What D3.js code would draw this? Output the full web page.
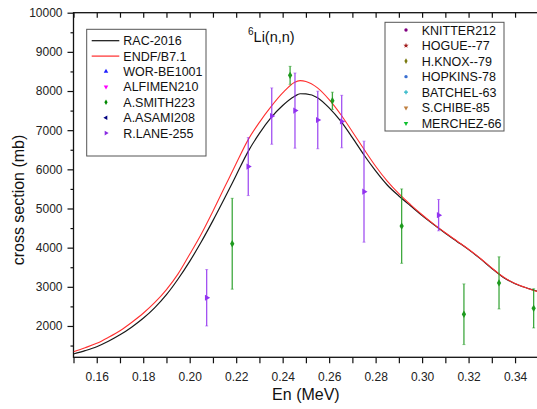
<!DOCTYPE html>
<html>
<head>
<meta charset="utf-8">
<script src="https://cdn.jsdelivr.net/npm/d3@7/dist/d3.min.js"></script>
<style>
  html, body { margin: 0; padding: 0; background: #fff; }
  svg { display: block; font-family: "Liberation Sans", Arial, sans-serif; }
</style>
</head>
<body>
<svg id="chart" width="537" height="409"></svg>
<script>
// Evaluated cross sections (mb) on a common energy grid (MeV)
const energyGrid = [0.150, 0.155, 0.160, 0.165, 0.170, 0.175, 0.180, 0.185, 0.190, 0.195,
  0.200, 0.205, 0.210, 0.215, 0.220, 0.225, 0.230, 0.235, 0.240, 0.245, 0.2475, 0.250,
  0.255, 0.260, 0.265, 0.270, 0.275, 0.280, 0.285, 0.290, 0.295, 0.300, 0.305, 0.310,
  0.315, 0.320, 0.325, 0.330, 0.335, 0.340, 0.345, 0.350];
const racValues = [1284, 1370, 1471, 1610, 1775, 1970, 2196, 2470, 2800, 3200,
  3650, 4150, 4690, 5260, 5850, 6440, 6920, 7320, 7630, 7860, 7930, 7925,
  7830, 7570, 7230, 6810, 6366, 5960, 5600, 5320, 5070, 4820, 4590, 4370,
  4160, 3950, 3720, 3470, 3240, 3080, 2970, 2880];
const endfValues = [1343, 1445, 1558, 1710, 1880, 2090, 2324, 2600, 2930, 3330,
  3830, 4350, 4930, 5540, 6150, 6740, 7200, 7600, 7950, 8220, 8265, 8245,
  8080, 7780, 7400, 6960, 6512, 6080, 5700, 5380, 5100, 4840, 4600, 4380,
  4170, 3960, 3730, 3480, 3250, 3085, 2970, 2875];

// Measured points with uncertainties
const laneEnergy = [0.2073, 0.2252, 0.2353, 0.2453, 0.2551, 0.2654, 0.2750, 0.3071];
const laneXS     = [2720, 6070, 7360, 7500, 7260, 7220, 5430, 4830];
const laneErr    = [720, 740, 720, 960, 735, 670, 1290, 400];

const smithEnergy = [0.2183, 0.2432, 0.2614, 0.2912, 0.3180, 0.3331, 0.3480];
const smithXS     = [4100, 8400, 7750, 4550, 2300, 3100, 2450];
const smithErr    = [1160, 230, 220, 950, 775, 665, 500];

// Axis ticks
const xTickValues = [0.16, 0.18, 0.20, 0.22, 0.24, 0.26, 0.28, 0.30, 0.32, 0.34];
const xMinorValues = [0.15, 0.17, 0.19, 0.21, 0.23, 0.25, 0.27, 0.29, 0.31, 0.33, 0.35];
const yTickValues = [2000, 3000, 4000, 5000, 6000, 7000, 8000, 9000, 10000];
const yMinorValues = [1500, 2500, 3500, 4500, 5500, 6500, 7500, 8500, 9500];

// Legend entries
const legendLeftNames = ["RAC-2016", "ENDF/B7.1", "WOR-BE1001", "ALFIMEN210", "A.SMITH223", "A.ASAMI208", "R.LANE-255"];
const legendLeftColors = ["#111111", "#ff2a2a", "#1f1fff", "#ff00ff", "#008800", "#000080", "#8a2be2"];
const legendLeftKinds = ["line", "line", "up", "down", "diamond", "left", "right"];
const legendRightNames = ["KNITTER212", "HOGUE--77", "H.KNOX--79", "HOPKINS-78", "BATCHEL-63", "S.CHIBE-85", "MERCHEZ-66"];
const legendRightColors = ["#800080", "#a01818", "#7a7a10", "#3a6fd0", "#30b8c8", "#c08040", "#10c030"];
const legendRightKinds = ["circle", "star", "diamond", "circle", "cross", "down", "down"];

const svg = d3.select("#chart");
const plotLeft = 73.5, plotRight = 538.3, plotTop = 12.7, plotBottom = 357.3;

const x = d3.scaleLinear().domain([0.15, 0.35]).range([plotLeft, plotRight]);
const y = d3.scaleLinear().domain([1200, 10000]).range([plotBottom, plotTop]);

svg.append("defs").append("clipPath").attr("id", "plotClip")
  .append("rect").attr("x", plotLeft).attr("y", plotTop)
  .attr("width", plotRight - plotLeft).attr("height", plotBottom - plotTop);

// Axes
const fmtX = d3.format(".2f");
const axisColor = "#111";

svg.append("g").attr("transform", `translate(0,${plotBottom})`)
  .call(d3.axisBottom(x).tickValues(xTickValues).tickFormat(fmtX).tickSize(6).tickPadding(9));
svg.append("g").attr("transform", `translate(0,${plotBottom})`)
  .call(d3.axisBottom(x).tickValues(xMinorValues).tickFormat("").tickSize(6));
svg.append("g").attr("transform", `translate(0,${plotTop})`)
  .call(d3.axisBottom(x).tickValues(xTickValues.concat(xMinorValues)).tickFormat("").tickSize(5));
svg.append("g").attr("transform", `translate(${plotLeft},0)`)
  .call(d3.axisLeft(y).tickValues(yTickValues).tickSize(6).tickPadding(5).tickFormat(d3.format("d")));
svg.append("g").attr("transform", `translate(${plotLeft},0)`)
  .call(d3.axisLeft(y).tickValues(yMinorValues).tickFormat("").tickSize(3));
svg.append("g").attr("transform", `translate(${plotRight},0)`)
  .call(d3.axisLeft(y).tickValues(yTickValues).tickFormat("").tickSize(-6));
svg.append("g").attr("transform", `translate(${plotRight},0)`)
  .call(d3.axisLeft(y).tickValues(yMinorValues).tickFormat("").tickSize(-3));

svg.selectAll(".domain").remove();
svg.selectAll(".tick line").attr("stroke", axisColor).attr("stroke-width", 1.2);
svg.selectAll(".tick text").attr("fill", "#222").style("font-size", "12px")
  .style("font-family", "'Liberation Sans', Arial, sans-serif");

// Frame
svg.append("rect").attr("x", plotLeft).attr("y", plotTop)
  .attr("width", plotRight - plotLeft).attr("height", plotBottom - plotTop)
  .attr("fill", "none").attr("stroke", axisColor).attr("stroke-width", 1.3);

// Axis titles
svg.append("text").attr("x", (plotLeft + plotRight) / 2).attr("y", 400)
  .attr("text-anchor", "middle").style("font-size", "16px").attr("fill", "#111")
  .text("En (MeV)");
svg.append("text").attr("transform", `translate(24,200) rotate(-90)`)
  .attr("text-anchor", "middle").style("font-size", "16px").attr("fill", "#111")
  .text("cross section (mb)");

// Reaction label
const title = svg.append("text").attr("x", 248).attr("y", 42).attr("fill", "#111");
title.append("tspan").attr("dy", -7).style("font-size", "10px").text("6");
title.append("tspan").attr("dy", 7).style("font-size", "14.5px").text("Li(n,n)");

// Evaluated curves
const plot = svg.append("g").attr("clip-path", "url(#plotClip)");
const line = d3.line().x((d, i) => x(energyGrid[i])).y(d => y(d)).curve(d3.curveMonotoneX);
plot.append("path").datum(racValues).attr("d", line)
  .attr("fill", "none").attr("stroke", "#1a1a1a").attr("stroke-width", 1.2);
plot.append("path").datum(endfValues).attr("d", line)
  .attr("fill", "none").attr("stroke", "#ff3030").attr("stroke-width", 1.1);

// Marker shapes
function marker(sel, kind, color, size) {
  const tri = d3.symbol().type(d3.symbolTriangle).size(size)();
  const rot = { up: 0, down: 180, left: -90, right: 90 };
  if (kind in rot) return sel.append("path").attr("d", tri).attr("transform", `rotate(${rot[kind]})`).attr("fill", color);
  const types = { diamond: d3.symbolDiamond, circle: d3.symbolCircle, star: d3.symbolStar, cross: d3.symbolCross };
  return sel.append("path").attr("d", d3.symbol().type(types[kind]).size(size)()).attr("fill", color);
}

// Data with error bars
function drawSeries(energies, values, errs, color, kind) {
  const g = plot.append("g");
  energies.forEach((e, i) => {
    const cx = x(e), lo = y(values[i] - errs[i]), hi = y(values[i] + errs[i]);
    g.append("line").attr("x1", cx).attr("x2", cx).attr("y1", lo).attr("y2", hi)
      .attr("stroke", color).attr("stroke-width", 1.3).attr("opacity", 0.85);
    [lo, hi].forEach(yy => g.append("line").attr("x1", cx - 1.5).attr("x2", cx + 1.5)
      .attr("y1", yy).attr("y2", yy).attr("stroke", color).attr("stroke-width", 1).attr("opacity", 0.5));
    const m = g.append("g").attr("transform", `translate(${cx},${y(values[i])})`);
    marker(m, kind, color, 16);
  });
}
drawSeries(smithEnergy, smithXS, smithErr, "#1e9a1e", "diamond");
drawSeries(laneEnergy, laneXS, laneErr, "#9233f0", "right");

// Legends
function legend(x0, y0, w, h, rowY, names, colors, kinds, lineX1, lineX2, markX, textX) {
  const g = svg.append("g");
  g.append("rect").attr("x", x0).attr("y", y0).attr("width", w).attr("height", h)
    .attr("fill", "#fff").attr("stroke", "#555").attr("stroke-width", 1);
  names.forEach((name, i) => {
    const yy = rowY[i];
    if (kinds[i] === "line") {
      g.append("line").attr("x1", lineX1).attr("x2", lineX2).attr("y1", yy).attr("y2", yy)
        .attr("stroke", colors[i]).attr("stroke-width", 1.2);
    } else {
      marker(g.append("g").attr("transform", `translate(${markX},${yy})`), kinds[i], colors[i], 9);
    }
    g.append("text").attr("x", textX).attr("y", yy + 4.5).style("font-size", "12.5px")
      .attr("fill", "#111").text(name);
  });
}
const leftRows = d3.range(7).map(i => 40.7 + i * 15.4);
legend(86.7, 29.3, 119.3, 126.7, leftRows, legendLeftNames, legendLeftColors, legendLeftKinds, 91.7, 119.3, 106, 123.3);
const rightRows = d3.range(7).map(i => 30 + i * 15.55);
legend(385, 22.3, 119, 108.7, rightRows, legendRightNames, legendRightColors, legendRightKinds, 0, 0, 406, 421.7);
</script>
</body>
</html>
